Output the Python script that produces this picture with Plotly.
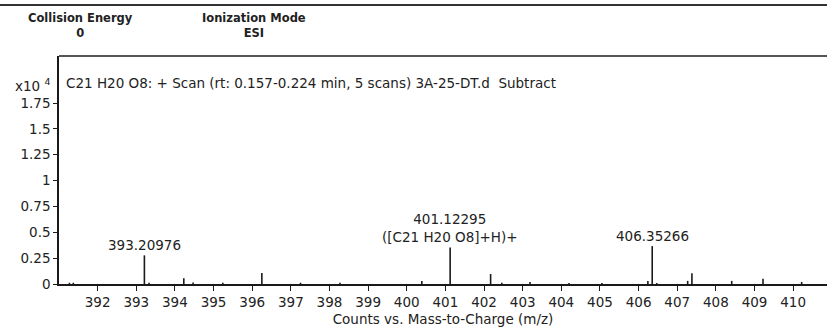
import plotly.graph_objects as go

# Peak list (m/z, intensity in units of 1e4 counts)
mz = [391.27, 391.37, 393.20976, 393.33, 394.23, 394.47, 395.24, 396.25, 397.25,
      398.27, 400.39, 401.12295, 402.17, 402.46, 403.19, 404.20, 405.05, 406.24,
      406.35266, 406.47, 407.27, 407.38, 408.41, 409.22, 410.22]
intensity = [0.012, 0.012, 0.277, 0.012, 0.055, 0.015, 0.012, 0.106, 0.012,
             0.012, 0.03, 0.354, 0.097, 0.012, 0.02, 0.01, 0.01, 0.03,
             0.367, 0.01, 0.03, 0.105, 0.03, 0.05, 0.02]

# Labelled peaks
label_mz = [393.20976, 401.12295, 406.35266]
label_int = [0.277, 0.354, 0.367]
label_text = ["393.20976", "401.12295<br>([C21 H20 O8]+H)+", "406.35266"]

# Acquisition header
header_names = ["Collision Energy", "Ionization Mode"]
header_values = ["0", "ESI"]

x_ticks = list(range(392, 411))
x_ticktext = [str(v) for v in x_ticks]
y_ticks = [0, 0.25, 0.5, 0.75, 1, 1.25, 1.5, 1.75]
y_ticktext = ["0", "0.25", "0.5", "0.75", "1", "1.25", "1.5", "1.75"]

W, H = 827, 331
x0_px, top_px, base_px = 59, 56, 284

# stick spectrum
sx, sy = [], []
for m, h in zip(mz, intensity):
    sx += [m, m, None]
    sy += [0, h, None]

fig = go.Figure()
fig.add_trace(go.Scatter(x=sx, y=sy, mode="lines",
                         line=dict(color="#1a1a1a", width=1.6),
                         hoverinfo="skip", showlegend=False))

font_main = dict(family="DejaVu Sans, Verdana, sans-serif", size=13.5, color="#222222")

for m, h, t in zip(label_mz, label_int, label_text):
    fig.add_annotation(x=m, y=h, xref="x", yref="y", text=t, showarrow=False,
                       xanchor="center", yanchor="bottom", yshift=0, font=font_main)

fig.update_layout(
    width=W, height=H,
    margin=dict(l=0, r=0, t=0, b=0, autoexpand=False),
    paper_bgcolor="white", plot_bgcolor="white",
    xaxis=dict(domain=[x0_px / W, 1], range=[391, 391 + (W - x0_px) / 38.64],
               tickvals=x_ticks, ticktext=x_ticktext, ticks="outside", ticklen=5,
               tickcolor="#1a1a1a", showline=True, linecolor="#1a1a1a", linewidth=1.5,
               showgrid=False, zeroline=False, tickfont=font_main, automargin=False,
               title=dict(text="Counts vs. Mass-to-Charge (m/z)", font=font_main, standoff=6)),
    yaxis=dict(domain=[(H - base_px) / H, (H - top_px) / H],
               range=[0, (base_px - top_px) / 103.4],
               tickvals=y_ticks, ticktext=y_ticktext, ticks="outside", ticklen=4,
               tickcolor="#1a1a1a", showline=True, linecolor="#1a1a1a", linewidth=1.5,
               showgrid=False, zeroline=False, tickfont=font_main, automargin=False),
)

# frame lines
fig.add_shape(type="line", xref="paper", yref="paper", x0=0, x1=1,
              y0=(H - 5) / H, y1=(H - 5) / H, line=dict(color="#333333", width=2))
fig.add_shape(type="line", xref="paper", yref="paper", x0=x0_px / W, x1=1,
              y0=(H - top_px) / H, y1=(H - top_px) / H, line=dict(color="#555555", width=2))

# header block: name over value, one centred block per column
hdr_font = dict(family="DejaVu Sans, Verdana, sans-serif", size=11.5, color="#222222")
for cx, name, val in zip([80, 254], header_names, header_values):
    fig.add_annotation(x=cx / W, y=(H - 25) / H, xref="paper", yref="paper",
                       xanchor="center", yanchor="middle", align="center",
                       text="<b>%s</b><br><b>%s</b>" % (name, val),
                       showarrow=False, font=hdr_font)

# scan description and scale factor
fig.add_annotation(x=64 / W, y=(H - 73) / H, xref="paper", yref="paper",
                   xanchor="left", showarrow=False, font=font_main,
                   text="C21 H20 O8: + Scan (rt: 0.157-0.224 min, 5 scans) 3A-25-DT.d  Subtract")
fig.add_annotation(x=52 / W, y=(H - 74) / H, xref="paper", yref="paper",
                   xanchor="right", showarrow=False, font=font_main,
                   text="x10 <sup>4</sup>")

fig.write_html("out.html")
